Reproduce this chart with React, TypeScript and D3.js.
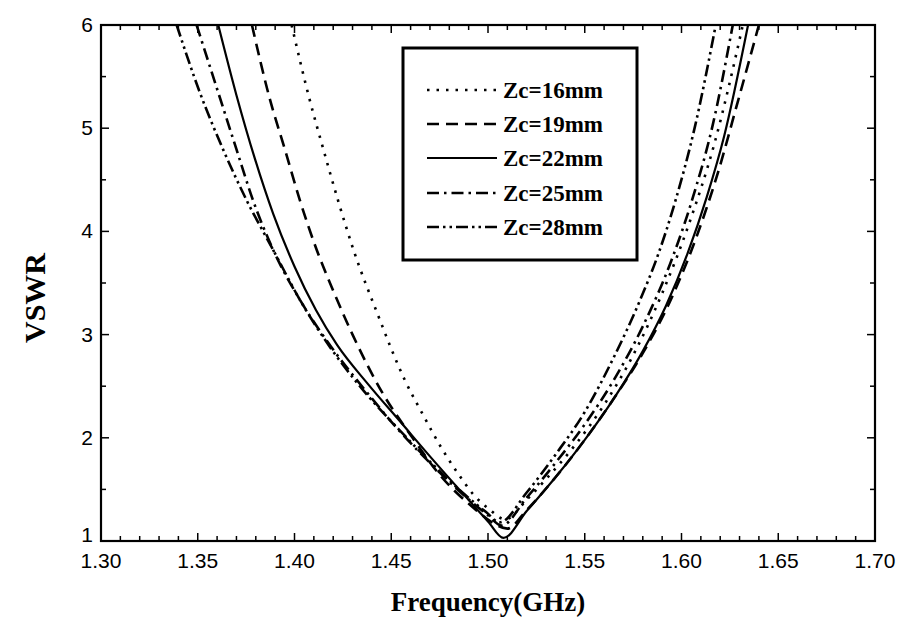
import React from 'react';
import * as d3 from 'd3';

const xTicks = [1.30, 1.35, 1.40, 1.45, 1.50, 1.55, 1.60, 1.65, 1.70];
const yTicks = [1, 2, 3, 4, 5, 6];
const seriesNames = ['Zc=16mm', 'Zc=19mm', 'Zc=22mm', 'Zc=25mm', 'Zc=28mm'];

const z16: [number, number][] = [
  [1.3985, 6], [1.4075, 5.3], [1.4150, 4.79], [1.4225, 4.30], [1.4305, 3.82], [1.4425, 3.22],
  [1.457, 2.56], [1.4665, 2.22], [1.476, 1.90], [1.485, 1.64], [1.4925, 1.45], [1.5005, 1.31],
  [1.509, 1.21], [1.520, 1.40], [1.530, 1.60], [1.545, 1.93], [1.560, 2.32], [1.575, 2.80],
  [1.590, 3.40], [1.604, 4.08], [1.617, 4.85], [1.6317, 6]
];
const z19: [number, number][] = [
  [1.378, 6], [1.387, 5.3], [1.3951, 4.79], [1.4028, 4.30], [1.4115, 3.82], [1.4199, 3.43],
  [1.430, 3.0], [1.445, 2.45], [1.461, 2.0], [1.476, 1.62], [1.492, 1.33], [1.503, 1.17],
  [1.510, 1.12], [1.520, 1.30], [1.535, 1.62], [1.550, 1.98], [1.565, 2.38], [1.580, 2.82],
  [1.595, 3.36], [1.608, 3.96], [1.619, 4.58], [1.629, 5.25], [1.640, 6]
];
const z22: [number, number][] = [
  [1.3606, 6], [1.370, 5.32], [1.3796, 4.70], [1.389, 4.17], [1.400, 3.66], [1.411, 3.24],
  [1.422, 2.90], [1.438, 2.52], [1.4545, 2.16], [1.470, 1.82], [1.487, 1.46], [1.500, 1.19],
  [1.508, 1.03], [1.520, 1.29], [1.535, 1.62], [1.550, 1.98], [1.565, 2.38], [1.580, 2.84],
  [1.592, 3.28], [1.603, 3.78], [1.613, 4.33], [1.622, 4.92], [1.6344, 6]
];
const z25: [number, number][] = [
  [1.3494, 6], [1.360, 5.38], [1.3701, 4.79], [1.3786, 4.30], [1.389, 3.82], [1.404, 3.3],
  [1.419, 2.88], [1.437, 2.45], [1.455, 2.05], [1.472, 1.72], [1.489, 1.42], [1.500, 1.25],
  [1.507, 1.15], [1.520, 1.42], [1.535, 1.76], [1.550, 2.13], [1.565, 2.56], [1.580, 3.08],
  [1.594, 3.68], [1.6054, 4.30], [1.616, 5.02], [1.6265, 6]
];
const z28: [number, number][] = [
  [1.3391, 6], [1.351, 5.35], [1.3632, 4.79], [1.3753, 4.30], [1.389, 3.82], [1.403, 3.33],
  [1.4183, 2.88], [1.436, 2.45], [1.454, 2.08], [1.471, 1.75], [1.488, 1.45], [1.499, 1.28],
  [1.506, 1.18], [1.520, 1.47], [1.535, 1.84], [1.550, 2.25], [1.565, 2.78], [1.5785, 3.33],
  [1.588, 3.78], [1.5966, 4.28], [1.607, 5.02], [1.6177, 6]
];

const seriesData = [z16, z19, z22, z25, z28];
const dashes = ['2.5,7', '12,7', '', '12,5,2.5,5', '12,4,2.5,4,2.5,4'];

export default function App() {
  const W = 911, H = 640;
  const L = 101, R = 875, T = 25, B = 541;
  const x = d3.scaleLinear().domain([1.3, 1.7]).range([L, R]);
  const y = d3.scaleLinear().domain([1, 6]).range([B, T]);
  const line = d3.line<[number, number]>()
    .x(d => x(d[0])).y(d => y(d[1])).curve(d3.curveMonotoneX);

  const xMinor = d3.range(0, 41).map(i => 1.3 + i * 0.01);
  const yMinor = d3.range(0, 11).map(i => 1 + i * 0.5);
  const sans = '"Liberation Sans", Arial, sans-serif';
  const serif = '"Liberation Serif", "Times New Roman", serif';

  const legX1 = 427, legX2 = 497, legTextX = 503;
  const legY = [90, 124, 158, 193, 227];

  return (
    <svg width={W} height={H} style={{ position: 'absolute', left: 0, top: 0, background: '#fff' }}>
      <defs>
        <clipPath id="plotclip">
          <rect x={L} y={T} width={R - L} height={B - T} />
        </clipPath>
      </defs>
      <rect x={0} y={0} width={W} height={H} fill="#fff" />
      <g clipPath="url(#plotclip)">
        {seriesData.map((d, i) => (
          <path key={i} d={line(d) || ''} fill="none" stroke="#000"
            strokeWidth={i === 2 ? 2.2 : 2.6} strokeDasharray={dashes[i] || undefined} />
        ))}
      </g>
      <g stroke="#000" strokeWidth={1.5}>
        {xMinor.map((v, i) => {
          const major = i % 5 === 0;
          const len = major ? 8 : 5;
          const px = x(v);
          return (
            <g key={'xt' + i}>
              <line x1={px} x2={px} y1={B} y2={B - len} />
              <line x1={px} x2={px} y1={T} y2={T + len} />
            </g>
          );
        })}
        {yMinor.map((v, i) => {
          const major = i % 2 === 0;
          const len = major ? 8 : 5;
          const py = y(v);
          return (
            <g key={'yt' + i}>
              <line x1={L} x2={L + len} y1={py} y2={py} />
              <line x1={R} x2={R - len} y1={py} y2={py} />
            </g>
          );
        })}
      </g>
      <rect x={L} y={T} width={R - L} height={B - T} fill="none" stroke="#000" strokeWidth={2.2} />
      <g fontFamily={sans} fontSize={21} fill="#000">
        {xTicks.map(v => (
          <text key={'xl' + v} x={x(v)} y={B + 27} textAnchor="middle">{v.toFixed(2)}</text>
        ))}
        {yTicks.map(v => (
          <text key={'yl' + v} x={L - 8} y={y(v) + (v === 1 ? 1 : 7)} textAnchor="end">{v}</text>
        ))}
      </g>
      <text x={(L + R) / 2} y={611} textAnchor="middle" fontFamily={serif} fontWeight="bold" fontSize={27}>Frequency(GHz)</text>
      <text transform={`translate(45,298) rotate(-90)`} textAnchor="middle" fontFamily={serif} fontWeight="bold" fontSize={30}>VSWR</text>
      <rect x={403} y={48} width={234} height={212} fill="#fff" stroke="#000" strokeWidth={3} />
      {seriesNames.map((name, i) => (
        <g key={'lg' + i}>
          <line x1={legX1} x2={legX2} y1={legY[i]} y2={legY[i]} stroke="#000"
            strokeWidth={i === 2 ? 2.2 : 2.6} strokeDasharray={dashes[i] || undefined} />
          <text x={legTextX} y={legY[i] + 8} fontFamily={serif} fontWeight="bold" fontSize={23}>{name}</text>
        </g>
      ))}
    </svg>
  );
}
